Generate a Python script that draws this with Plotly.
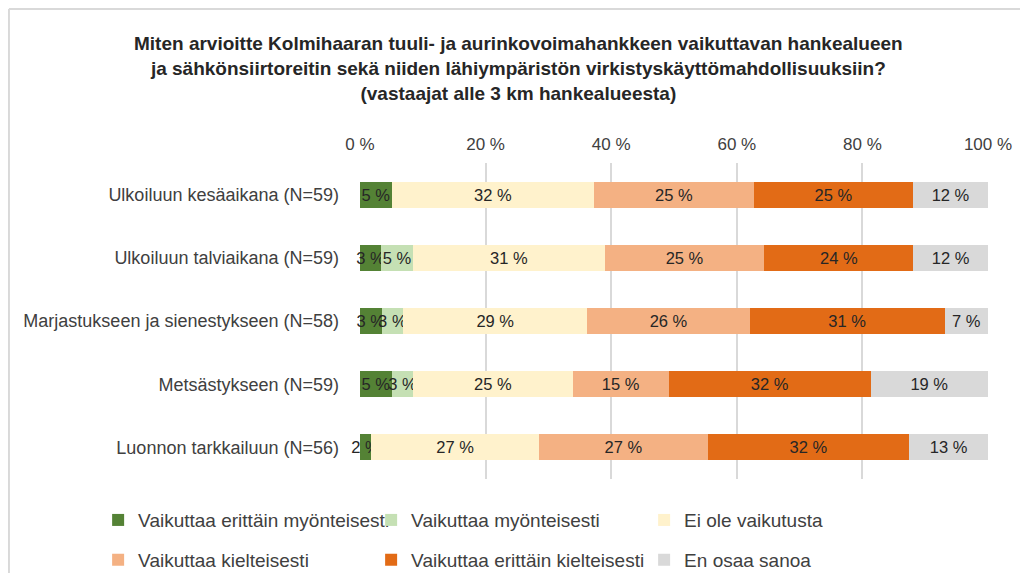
import plotly.graph_objects as go

categories = [
    "Ulkoiluun kesäaikana (N=59)",
    "Ulkoiluun talviaikana (N=59)",
    "Marjastukseen ja sienestykseen (N=58)",
    "Metsästykseen (N=59)",
    "Luonnon tarkkailuun (N=56)",
]
series_names = [
    "Vaikuttaa erittäin myönteisesti",
    "Vaikuttaa myönteisesti",
    "Ei ole vaikutusta",
    "Vaikuttaa kielteisesti",
    "Vaikuttaa erittäin kielteisesti",
    "En osaa sanoa",
]
very_positive = [5.08, 3.39, 3.45, 5.08, 1.79]
positive = [0.0, 5.08, 3.45, 3.39, 0.0]
no_effect = [32.20, 30.51, 29.31, 25.42, 26.78]
negative = [25.42, 25.42, 25.86, 15.25, 26.78]
very_negative = [25.42, 23.73, 31.03, 32.20, 32.14]
dont_know = [11.86, 11.86, 6.90, 18.64, 12.50]
tick_vals = [0, 20, 40, 60, 80, 100]
tick_text = ["0 %", "20 %", "40 %", "60 %", "80 %", "100 %"]

colors = ["#548235", "#c5e0b4", "#fff2cc", "#f4b183", "#e26b16", "#d9d9d9"]
values = [very_positive, positive, no_effect, negative, very_negative, dont_know]
legends = ["legend", "legend", "legend", "legend2", "legend2", "legend2"]

FONT = "Liberation Sans, Arial, sans-serif"

fig = go.Figure()
for name, vals, col, lg in zip(series_names, values, colors, legends):
    fig.add_trace(go.Bar(
        y=categories, x=vals, name=name, orientation="h",
        marker=dict(color=col, line=dict(width=0)),
        text=[f"{int(v + 0.5)} %" if v > 0 else "" for v in vals],
        textposition="inside", insidetextanchor="middle", textangle=0,
        textfont=dict(color="#262626", size=16.5, family=FONT),
        cliponaxis=False, legend=lg, hoverinfo="x+name",
    ))

# light grey chart-area border: top and left edges (others fall outside the page)
fig.add_shape(type="line", xref="paper", yref="paper",
              x0=-0.559, x1=1.2, y0=1.487, y1=1.487,
              line=dict(color="#d9d9d9", width=2), layer="below")
fig.add_shape(type="line", xref="paper", yref="paper",
              x0=-0.559, x1=-0.559, y0=-0.45, y1=1.487,
              line=dict(color="#d9d9d9", width=2), layer="below")

fig.update_layout(
    width=1012, height=565,
    barmode="stack", bargap=0.59,
    plot_bgcolor="white", paper_bgcolor="white",
    margin=dict(l=352, r=32, t=155, b=94, autoexpand=False),
    uniformtext=dict(minsize=16.5, mode="show"),
    font=dict(family=FONT, color="#404040"),
    title=dict(
        text="<b>Miten arvioitte Kolmihaaran tuuli- ja aurinkovoimahankkeen vaikuttavan hankealueen<br>"
             "ja sähkönsiirtoreitin sekä niiden lähiympäristön virkistyskäyttömahdollisuuksiin?<br>"
             "(vastaajat alle 3 km hankealueesta)</b>",
        x=0.5043, xanchor="center", y=0.925, yanchor="top", yref="container",
        font=dict(size=19, color="#262626", family=FONT),
    ),
    xaxis=dict(
        side="top", range=[0, 100], tickvals=tick_vals, ticktext=tick_text,
        showgrid=True, gridcolor="#d9d9d9", gridwidth=2, zeroline=False,
        showline=False, ticks="", tickfont=dict(size=17, color="#404040"),
        automargin=False, ticklabelstandoff=9,
    ),
    yaxis=dict(
        autorange="reversed", showgrid=False, ticks="", ticklabelstandoff=20,
        tickfont=dict(size=18, color="#404040"), automargin=False,
    ),
    legend=dict(
        orientation="h", x=-0.417, xanchor="left", y=-0.130, yanchor="middle",
        entrywidth=228, entrywidthmode="pixels", font=dict(size=19, color="#404040"),
        itemwidth=30, traceorder="normal",
    ),
    legend2=dict(
        orientation="h", x=-0.417, xanchor="left", y=-0.256, yanchor="middle",
        entrywidth=228, entrywidthmode="pixels", font=dict(size=19, color="#404040"),
        itemwidth=30, traceorder="normal",
    ),
)

fig.write_html("out.html")
